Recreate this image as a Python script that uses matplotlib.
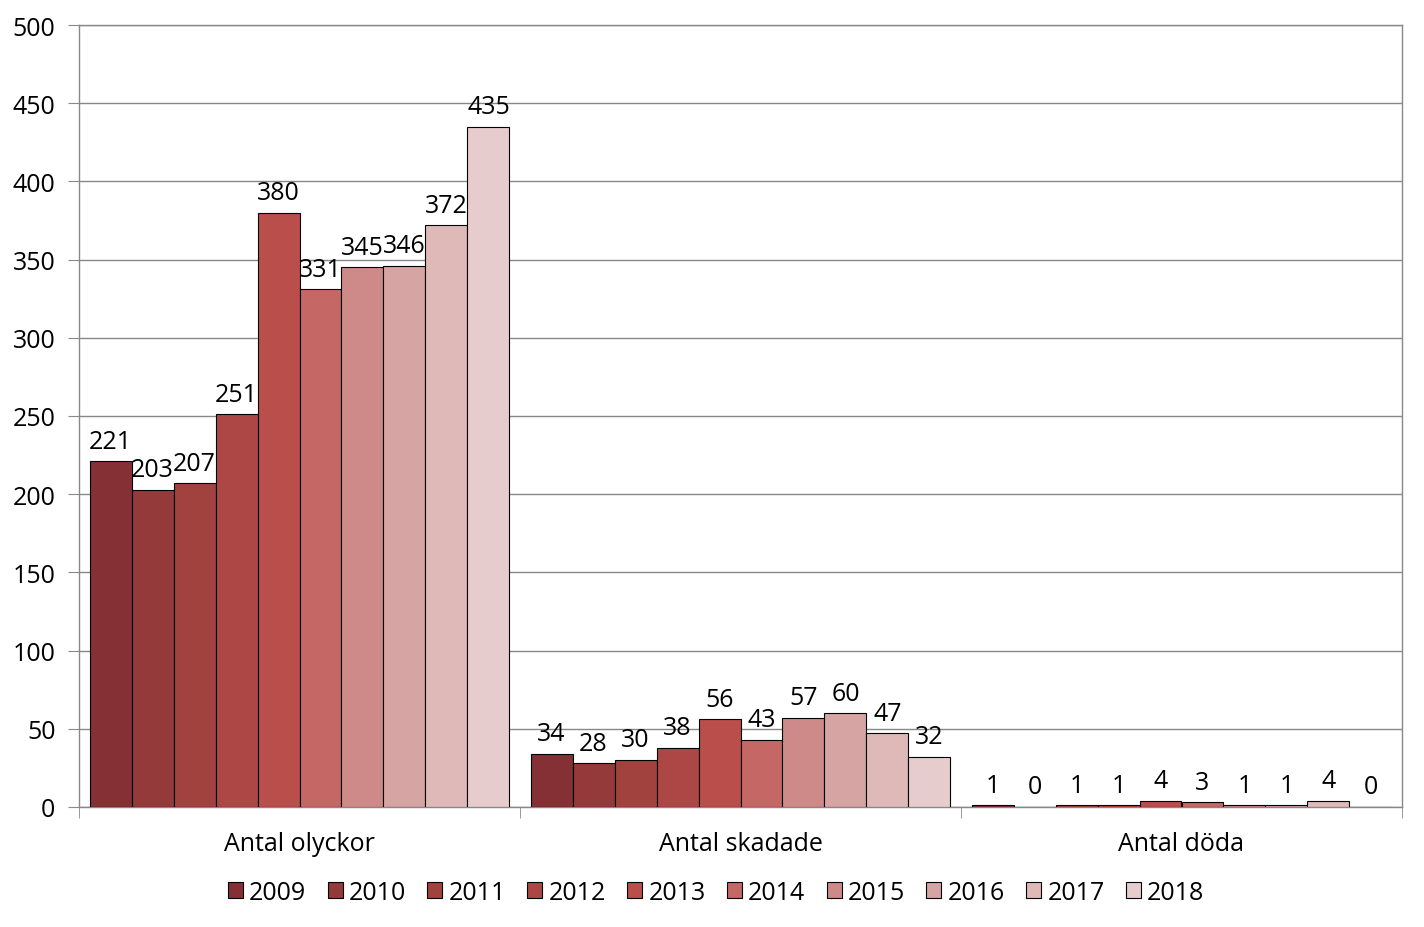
import matplotlib
matplotlib.use("Agg")
import matplotlib.pyplot as plt
import numpy as np

plt.rcParams['font.family'] = ['Open Sans', 'DejaVu Sans']

categories = ["Antal olyckor", "Antal skadade", "Antal döda"]
years = ["2009", "2010", "2011", "2012", "2013", "2014", "2015", "2016", "2017", "2018"]
values = {
    "2009": [221, 34, 1],
    "2010": [203, 28, 0],
    "2011": [207, 30, 1],
    "2012": [251, 38, 1],
    "2013": [380, 56, 4],
    "2014": [331, 43, 3],
    "2015": [345, 57, 1],
    "2016": [346, 60, 1],
    "2017": [372, 47, 4],
    "2018": [435, 32, 0],
}
colors = ["#843034", "#943A3A", "#A1423F", "#AC4745", "#B94E4B",
          "#C56865", "#CE8A88", "#D6A4A3", "#DFB9B8", "#E7CCCD"]
yticks = [0, 50, 100, 150, 200, 250, 300, 350, 400, 450, 500]

FS = 18

fig = plt.figure(figsize=(14.24, 9.28), dpi=100)
ax = fig.add_axes([79/1424, 1-808/928, (1402-79)/1424, (808-26)/928])

n = len(years)
bw = 0.952 / n
x = np.arange(len(categories))
for i, (yr, c) in enumerate(zip(years, colors)):
    pos = x - 0.476 + bw * (i + 0.5)
    bars = ax.bar(pos, values[yr], width=bw, color=c, edgecolor="black",
                  linewidth=0.8, label=yr, zorder=3)
    for b, v in zip(bars, values[yr]):
        ax.annotate(str(v), (b.get_x() + b.get_width()/2, v),
                    xytext=(0, 5.5), textcoords="offset points",
                    ha="center", va="bottom", fontsize=FS, zorder=4)

ax.set_xlim(-0.5, len(categories) - 0.5)
ax.set_ylim(0, 500)
ax.set_yticks(yticks)
ax.set_yticklabels([str(t) for t in yticks], fontsize=FS)
ax.yaxis.grid(True, color="#888888", linewidth=1)
ax.set_axisbelow(True)

ax.set_xticks(x)
ax.set_xticklabels(categories, fontsize=FS)
ax.tick_params(axis="x", which="major", length=0, pad=17)
ax.set_xticks(np.arange(-0.5, len(categories)), minor=True)
ax.tick_params(axis="x", which="minor", length=8, color="#888888", direction="out")
ax.tick_params(axis="y", length=8, color="#888888", pad=9)

for s in ["left", "right", "bottom", "top"]:
    ax.spines[s].set_color("#888888")
    ax.spines[s].set_linewidth(1)

leg = ax.legend(loc="center", bbox_to_anchor=(0.4815, -0.1095), ncol=10,
                frameon=False, fontsize=FS, handlelength=0.6, handleheight=0.6,
                handletextpad=0.25, columnspacing=0.85)

fig.savefig("out.png", dpi=100)
